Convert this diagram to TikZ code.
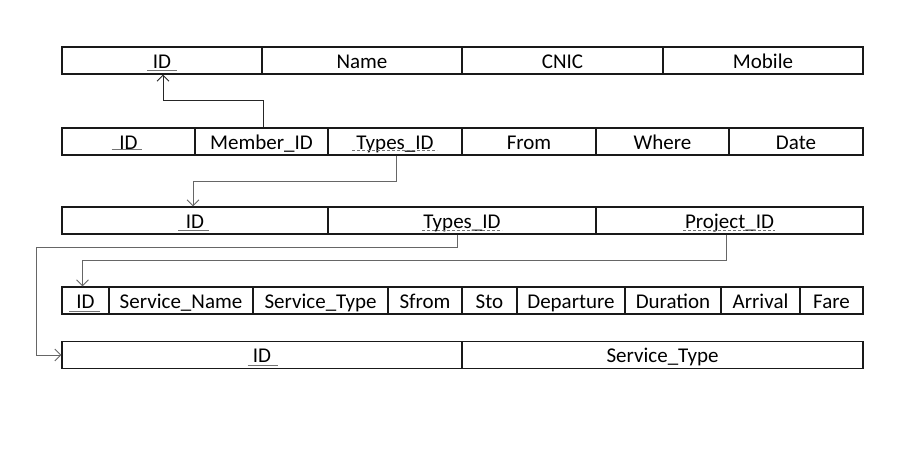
\documentclass[tikz,border=0pt]{standalone}
\usepackage{fontspec}
\setmainfont{Carlito}
\usetikzlibrary{arrows.meta,calc}
\tikzset{
  cell/.style={draw=black!90, line width=1.2pt, inner sep=0pt, minimum height=27pt,
    text height=19pt, text depth=3.4pt, font=\fontsize{21}{24}\selectfont, text=black},
  conn/.style={draw=black!60, line width=0.9pt, -{Straight Barb[length=6pt,width=12pt,line width=0.9pt]}},
  connA/.style={conn, draw=black!85},
  ulsolid/.style={draw=black!55, line width=1pt},
  uldash/.style={draw=black!55, line width=1pt, dash pattern=on 3pt off 2pt}
}
\newcommand{\mkcell}[5]{\node[cell, minimum width={(#3-#2)*1pt}] (#1) at ({(#2+#3)/2},#4) {#5};}
\begin{document}
\begin{tikzpicture}[x=1pt,y=-1pt]
\useasboundingbox (0,0) rectangle (915,454);
% Table 1
\mkcell{a1}{62}{262}{60.5}{ID}
\mkcell{a2}{262}{462}{60.5}{Name}
\mkcell{a3}{462}{663}{60.5}{CNIC}
\mkcell{a4}{663}{863}{60.5}{Mobile}
% Table 2
\mkcell{b1}{62}{195}{141.5}{ID}
\mkcell{b2}{195}{328}{141.5}{Member\_ID}
\mkcell{b3}{328}{462}{141.5}{Types\_ID}
\mkcell{b4}{462}{596}{141.5}{From}
\mkcell{b5}{596}{729}{141.5}{Where}
\mkcell{b6}{729}{863}{141.5}{Date}
% Table 3
\mkcell{c1}{62}{328}{220.5}{ID}
\mkcell{c2}{328}{596}{220.5}{Types\_ID}
\mkcell{c3}{596}{863}{220.5}{Project\_ID}
% Table 4
\mkcell{d1}{62}{109}{300.5}{ID}
\mkcell{d2}{109}{253}{300.5}{Service\_Name}
\mkcell{d3}{253}{388}{300.5}{Service\_Type}
\mkcell{d4}{388}{462}{300.5}{Sfrom}
\mkcell{d5}{462}{517}{300.5}{Sto}
\mkcell{d6}{517}{625}{300.5}{Departure}
\mkcell{d7}{625}{721}{300.5}{Duration}
\mkcell{d8}{721}{800}{300.5}{Arrival}
\mkcell{d9}{800}{863}{300.5}{Fare}
% Table 5
\mkcell{e1}{62}{462}{355}{ID}
\mkcell{e2}{462}{863}{355}{Service\_Type}
% underlines
\draw[ulsolid] ($(a1.center)+(-15,10.5)$) -- ++(30,0);
\draw[ulsolid] ($(b1.center)+(-17,8.5)$) -- ++(30,0);
\draw[uldash] ($(b3.center)+(-43,9)$) -- ++(85,0);
\draw[ulsolid] ($(c1.center)+(-17,10.5)$) -- ++(31,0);
\draw[uldash] ($(c2.center)+(-40,10.5)$) -- ++(80,0);
\draw[uldash] ($(c3.center)+(-46.5,10.5)$) -- ++(92,0);
\draw[ulsolid] ($(d1.center)+(-16.5,10.5)$) -- ++(31,0);
\draw[ulsolid] ($(e1.center)+(-14.5,10.5)$) -- ++(30,0);
% connectors
\coordinate (k1) at (36,247);
\draw[connA] ([xshift=1.5pt]b2.north) -- ++(0,-27) -| ([xshift=1pt]a1.south);
\draw[conn] ([xshift=1.5pt]b3.south) -- ++(0,26) -| ([xshift=-2pt]c1.north);
\draw[conn] ([xshift=-4.5pt]c2.south) |- (k1) |- (e1.west);
\draw[conn] ([xshift=-3.5pt]c3.south) -- ++(0,26) -| ([xshift=-3pt]d1.north);
\end{tikzpicture}
\end{document}
